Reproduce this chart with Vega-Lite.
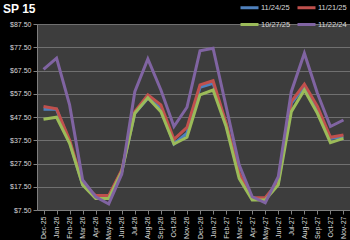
{
  "$schema": "https://vega.github.io/schema/vega-lite/v6.json",
  "width": 313,
  "height": 186,
  "autosize": {"type": "none"},
  "padding": {"left": 37, "top": 24, "right": 0, "bottom": 30},
  "background": "#000000",
  "title": {"text": "SP 15", "anchor": "start", "frame": "group", "dx": -34, "dy": 19, "offset": 0, "fontSize": 12, "font": "Liberation Sans", "fontWeight": "bold", "color": "#ffffff"},
  "config": {
    "view": {"fill": "#3d3d3d", "stroke": null},
    "axis": {"labelFont": "Liberation Sans", "labelFontSize": 7, "labelColor": "#d9d9d9", "domainColor": "#7f7f7f", "tickColor": "#7f7f7f", "tickSize": 4, "gridColor": "#707070", "gridWidth": 1}
  },
  "data": {"values": [
    {"m": "Dec-25", "11/24/25": 50.8, "11/21/25": 52.0, "10/27/25": 46.5, "11/22/24": 68.0},
    {"m": "Jan-26", "11/24/25": 50.8, "11/21/25": 51.0, "10/27/25": 47.4, "11/22/24": 72.8},
    {"m": "Feb-26", "11/24/25": 36.8, "11/21/25": 37.6, "10/27/25": 36.2, "11/22/24": 52.7},
    {"m": "Mar-26", "11/24/25": 18.3, "11/21/25": 18.7, "10/27/25": 18.3, "11/22/24": 20.4},
    {"m": "Apr-26", "11/24/25": 13.2, "11/21/25": 13.7, "10/27/25": 12.5, "11/22/24": 13.2},
    {"m": "May-26", "11/24/25": 13.2, "11/21/25": 13.7, "10/27/25": 12.5, "11/22/24": 10.1},
    {"m": "Jun-26", "11/24/25": 24.3, "11/21/25": 24.7, "10/27/25": 24.0, "11/22/24": 23.0},
    {"m": "Jul-26", "11/24/25": 49.1, "11/21/25": 49.8, "10/27/25": 49.1, "11/22/24": 58.4},
    {"m": "Aug-26", "11/24/25": 55.6, "11/21/25": 57.0, "10/27/25": 55.8, "11/22/24": 72.5},
    {"m": "Sep-26", "11/24/25": 51.2, "11/21/25": 52.7, "10/27/25": 49.8, "11/22/24": 59.1},
    {"m": "Oct-26", "11/24/25": 35.9, "11/21/25": 37.9, "10/27/25": 35.9, "11/22/24": 43.4},
    {"m": "Nov-26", "11/24/25": 40.5, "11/21/25": 43.0, "10/27/25": 38.8, "11/22/24": 51.7},
    {"m": "Dec-26", "11/24/25": 60.3, "11/21/25": 61.3, "10/27/25": 57.0, "11/22/24": 76.0},
    {"m": "Jan-27", "11/24/25": 62.0, "11/21/25": 63.1, "10/27/25": 59.1, "11/22/24": 77.1},
    {"m": "Feb-27", "11/24/25": 44.3, "11/21/25": 44.8, "10/27/25": 43.4, "11/22/24": 52.0},
    {"m": "Mar-27", "11/24/25": 22.5, "11/21/25": 23.3, "10/27/25": 21.1, "11/22/24": 26.9},
    {"m": "Apr-27", "11/24/25": 12.5, "11/21/25": 12.8, "10/27/25": 11.8, "11/22/24": 13.2},
    {"m": "May-27", "11/24/25": 12.5, "11/21/25": 12.8, "10/27/25": 11.8, "11/22/24": 10.6},
    {"m": "Jun-27", "11/24/25": 19.2, "11/21/25": 19.7, "10/27/25": 18.3, "11/22/24": 21.8},
    {"m": "Jul-27", "11/24/25": 53.4, "11/21/25": 54.1, "10/27/25": 49.8, "11/22/24": 58.4},
    {"m": "Aug-27", "11/24/25": 60.6, "11/21/25": 61.6, "10/27/25": 59.1, "11/22/24": 74.9},
    {"m": "Sep-27", "11/24/25": 50.9, "11/21/25": 52.0, "10/27/25": 49.1, "11/22/24": 57.7},
    {"m": "Oct-27", "11/24/25": 38.3, "11/21/25": 38.8, "10/27/25": 36.5, "11/22/24": 43.4},
    {"m": "Nov-27", "11/24/25": 39.0, "11/21/25": 39.8, "10/27/25": 38.3, "11/22/24": 46.2}
  ]},
  "transform": [{"fold": ["11/24/25", "11/21/25", "10/27/25", "11/22/24"], "as": ["series", "price"]}],
  "mark": {"type": "line", "strokeWidth": 3},
  "encoding": {
    "x": {"field": "m", "type": "ordinal", "sort": null, "scale": {"type": "point", "padding": 0.5},
      "axis": {"title": null, "labelAngle": -90, "grid": false, "labelPadding": 2}},
    "y": {"field": "price", "type": "quantitative", "scale": {"domain": [7.5, 87.5], "nice": false, "zero": false},
      "axis": {"title": null, "values": [7.5, 17.5, 27.5, 37.5, 47.5, 57.5, 67.5, 77.5, 87.5], "format": "$.2f", "labelPadding": 2}},
    "color": {"field": "series", "type": "nominal",
      "scale": {"domain": ["11/24/25", "11/21/25", "10/27/25", "11/22/24"], "range": ["#4f81bd", "#c0504d", "#9bbb59", "#8064a2"]},
      "legend": {"title": null, "orient": "none", "legendX": 202, "legendY": -27, "direction": "horizontal", "columns": 2, "symbolType": "stroke", "symbolSize": 324, "symbolStrokeWidth": 3, "labelFont": "Liberation Sans", "labelFontSize": 7.5, "labelColor": "#d9d9d9", "labelOffset": 1, "columnPadding": 0, "rowPadding": -6}},
    "order": {"field": "series"}
  }
}
